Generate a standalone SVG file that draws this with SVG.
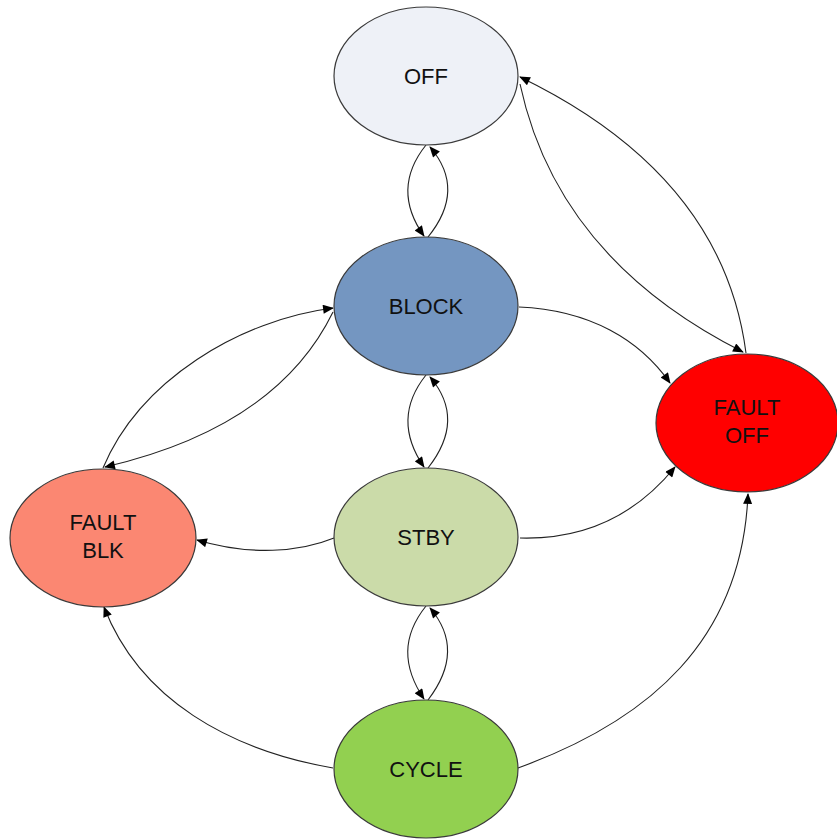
<svg xmlns="http://www.w3.org/2000/svg" width="837" height="839" viewBox="0 0 837 839">
<style>
.n{stroke:#3a3a3a;stroke-width:1.2}
.t{font-family:"Liberation Sans",Arial,sans-serif;font-size:22px;fill:#111;text-anchor:middle}
.c{fill:none;stroke:#222;stroke-width:1.1;marker-end:url(#a)}
</style>
<defs>
<marker id="a" viewBox="0 0 12 10" refX="11" refY="5" markerWidth="12" markerHeight="9" markerUnits="userSpaceOnUse" orient="auto">
<path d="M0,0 L12,5 L0,10 Z" fill="#000"/>
</marker>
</defs>
<rect width="837" height="839" fill="#fff"/>
<g id="connectors">
<path class="c" d="M426,145 C402,175 402,205 424,236"/>
<path class="c" d="M428,237 C454,205 454,175 430,147"/>
<path class="c" d="M426,375 C402,405 402,435 424,467"/>
<path class="c" d="M428,468 C454,435 454,405 430,377"/>
<path class="c" d="M426,606 C402,636 402,666 424,699"/>
<path class="c" d="M428,700 C454,666 454,636 430,608"/>
<path class="c" d="M746,353 C730,230 650,140 520,77"/>
<path class="c" d="M520,84 C545,200 620,290 743,352"/>
<path class="c" d="M519,307 C590,310 640,340 670,383"/>
<path class="c" d="M520,538 C590,540 640,510 675,467"/>
<path class="c" d="M518,768 C650,720 742,640 748,494"/>
<path class="c" d="M334,538 C300,552 250,556 197,540"/>
<path class="c" d="M333,768 C230,750 140,700 104,607"/>
<path class="c" d="M103,468 C140,380 240,320 333,308"/>
<path class="c" d="M333,312 C290,400 200,445 105,467"/>
</g>
<g id="OFF"><ellipse class="n" cx="426" cy="76" rx="92" ry="69" fill="#eef1f7"/><text class="t" x="426" y="84">OFF</text></g>
<g id="BLOCK"><ellipse class="n" cx="426" cy="306" rx="92" ry="69" fill="#7496c1"/><text class="t" x="426" y="314">BLOCK</text></g>
<g id="FAULT_OFF"><ellipse class="n" cx="747" cy="423" rx="91" ry="69" fill="#ff0000"/><text class="t" x="747" y="415">FAULT</text><text class="t" x="747" y="443">OFF</text></g>
<g id="FAULT_BLK"><ellipse class="n" cx="103" cy="538" rx="93" ry="69" fill="#fb8772"/><text class="t" x="103" y="530">FAULT</text><text class="t" x="103" y="558">BLK</text></g>
<g id="STBY"><ellipse class="n" cx="426" cy="537" rx="92" ry="69" fill="#cbdba9"/><text class="t" x="426" y="545">STBY</text></g>
<g id="CYCLE"><ellipse class="n" cx="426" cy="769" rx="92" ry="69" fill="#92d050"/><text class="t" x="426" y="777">CYCLE</text></g>
</svg>
